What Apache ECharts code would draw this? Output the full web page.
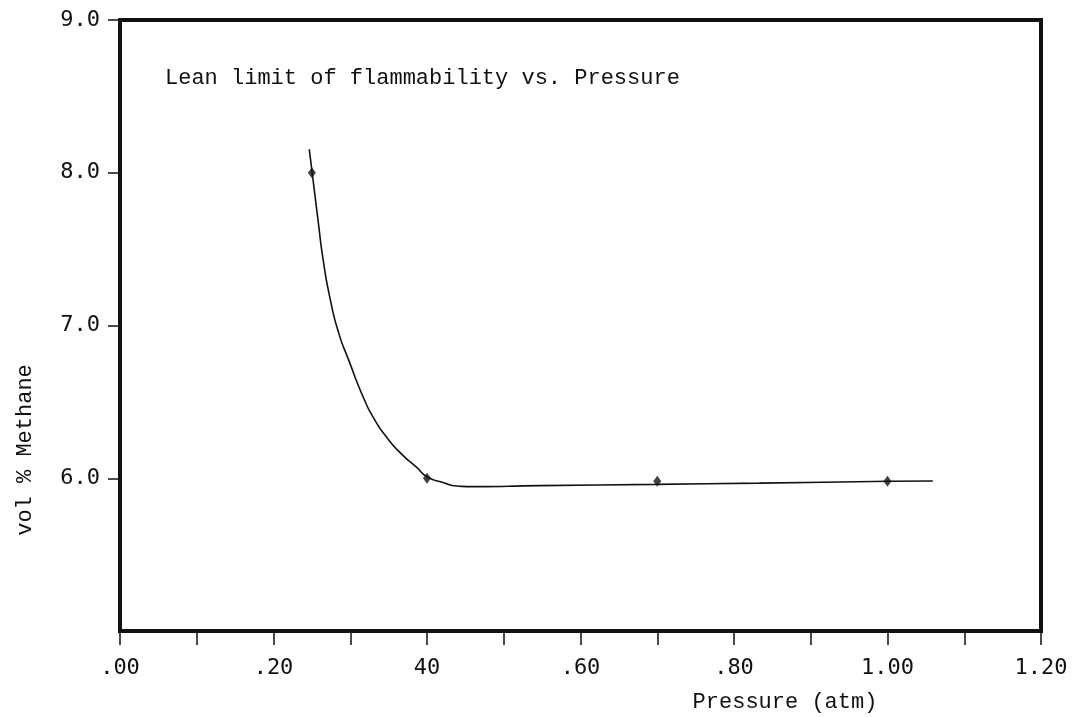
<!DOCTYPE html>
<html>
<head>
<meta charset="utf-8">
<title>Lean limit of flammability vs. Pressure</title>
<script src="https://cdn.jsdelivr.net/npm/echarts@6/dist/echarts.min.js"></script>
<style>
  html, body { margin: 0; padding: 0; background: #fff; }
  #chart { width: 1083px; height: 717px; }
</style>
</head>
<body>
<div id="chart"></div>
<script>
// measured points (diamonds)
var pointX = [0.25, 0.40, 0.70, 1.00];
var pointY = [8.00, 6.00, 5.98, 5.98];

// hand drawn fit curve
var curveX = [0.2466, 0.2584, 0.2650, 0.2740, 0.2850, 0.2975, 0.317, 0.330, 0.3475, 0.369, 0.3866, 0.400, 0.421, 0.4387, 0.460, 0.547, 0.698, 0.833, 1.002, 1.059];
var curveY = [8.154, 7.673, 7.420, 7.170, 6.950, 6.780, 6.530, 6.399, 6.268, 6.148, 6.071, 6.010, 5.972, 5.949, 5.945, 5.952, 5.960, 5.968, 5.980, 5.982];

// tick labels as printed
var xTickLabels = ['.00', '.20', '40', '.60', '.80', '1.00', '1.20'];
var yTickLabels = ['', '6.0', '7.0', '8.0', '9.0'];

var titleText = 'Lean limit of flammability vs. Pressure';
var xName = 'Pressure (atm)';
var yName = 'vol % Methane';

function pairs(xs, ys) {
    var res = [];
    for (var i = 0; i < xs.length; i++) {
        res.push([xs[i], ys[i]]);
    }
    return res;
}

var ink = '#111';
var tickFont = 'DejaVu Sans Mono';
var textFont = 'Liberation Mono';

var myChart = echarts.init(document.getElementById('chart'), null, { renderer: 'canvas' });
var option = {
    backgroundColor: '#fff',
    animation: false,
    title: {
        text: titleText,
        left: 160,
        top: 62,
        textStyle: { fontFamily: textFont, fontSize: 22, fontWeight: 'normal', color: ink }
    },
    grid: {
        left: 120, right: 42, top: 20, bottom: 86,
        show: true,
        borderColor: ink,
        borderWidth: 4,
        backgroundColor: 'transparent'
    },
    xAxis: {
        type: 'value',
        min: 0, max: 1.2, interval: 0.2,
        axisLine: { show: true, lineStyle: { color: ink, width: 4 } },
        axisTick: { show: true, length: 14, lineStyle: { color: ink, width: 1.5 } },
        minorTick: { show: true, splitNumber: 2, length: 14, lineStyle: { color: ink, width: 1.5 } },
        splitLine: { show: false },
        axisLabel: {
            margin: 26,
            fontFamily: tickFont, fontSize: 22, color: ink,
            formatter: function (v) {
                var i = Math.round(v / 0.2);
                return xTickLabels[i] !== undefined ? xTickLabels[i] : '';
            }
        }
    },
    yAxis: {
        type: 'value',
        min: 5, max: 9, interval: 1,
        axisLine: { show: true, lineStyle: { color: ink, width: 4 } },
        axisTick: { show: true, length: 12, customValues: [6, 7, 8, 9], lineStyle: { color: ink, width: 1.5 } },
        splitLine: { show: false },
        axisLabel: {
            margin: 20,
            fontFamily: tickFont, fontSize: 22, color: ink,
            formatter: function (v) {
                var i = Math.round(v - 5);
                return yTickLabels[i] !== undefined ? yTickLabels[i] : '';
            }
        }
    },
    graphic: [
        {
            type: 'text',
            x: 785, y: 702,
            style: {
                text: xName, fill: ink,
                font: '22px "' + textFont + '"',
                align: 'center', verticalAlign: 'middle'
            }
        },
        {
            type: 'text',
            x: 25, y: 450,
            rotation: Math.PI / 2,
            style: {
                text: yName, fill: ink,
                font: '22px "' + textFont + '"',
                align: 'center', verticalAlign: 'middle'
            }
        }
    ],
    series: [
        {
            name: 'fit',
            type: 'line',
            data: pairs(curveX, curveY),
            smooth: 0.6,
            showSymbol: false,
            lineStyle: { color: ink, width: 1.6 },
            z: 2
        },
        {
            name: 'points',
            type: 'scatter',
            data: pairs(pointX, pointY),
            symbol: 'diamond',
            symbolSize: [8, 11],
            itemStyle: { color: ink },
            z: 3
        }
    ]
};
myChart.setOption(option);
</script>
</body>
</html>
